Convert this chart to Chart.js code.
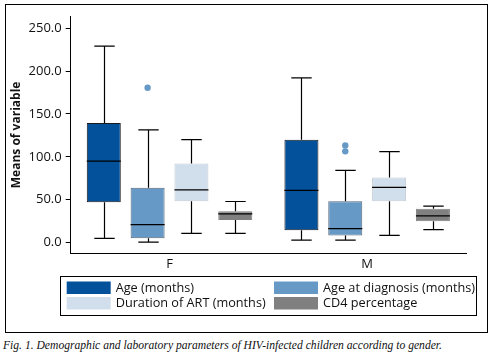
<!DOCTYPE html>
<html>
<head>
<meta charset="utf-8">
<script src="https://cdn.jsdelivr.net/npm/chart.js@4.4.1/dist/chart.umd.min.js"></script>
<style>
  body { margin: 0; background: #fff; width: 493px; height: 361px; position: relative; overflow: hidden; }
  #frame { position: absolute; left: 5px; top: 4px; width: 481px; height: 327px; border: 1px solid #000; }
  #caption { position: absolute; left: 3px; top: 339px; font-family: "Liberation Serif", serif; font-style: italic; font-size: 11.6px; color: #111; white-space: nowrap; }
</style>
</head>
<body>
<div id="frame"><canvas id="chart" width="481" height="327"></canvas></div>
<div id="caption">Fig. 1. Demographic and laboratory parameters of HIV-infected children according to gender.</div>
<script>
// categories and series
var categories = ['F', 'M'];
var seriesLabels = ['Age (months)', 'Age at diagnosis (months)', 'Duration of ART (months)', 'CD4 percentage'];
var yTicks = [0, 50, 100, 150, 200, 250];

// box stats per gender: [min, q1, median, q3, max]
var ageMonths    = [[5, 47, 95, 139.5, 229], [3, 14.5, 61, 120, 192]];
var ageDiagnosis = [[0.5, 5, 21, 64, 131.5], [3, 8.4, 16.4, 48.3, 84.3]];
var artDuration  = [[10.7, 48.3, 61.5, 92.3, 120], [8.4, 48.3, 64.3, 76, 106]];
var cd4Percent   = [[10.7, 26.5, 33.5, 36.5, 47.9], [15.2, 25, 31.2, 39.5, 42.6]];

// outliers per gender
var ageMonthsOut    = [[], []];
var ageDiagnosisOut = [[180.5], [113.3, 106.4]];
var artDurationOut  = [[], []];
var cd4PercentOut   = [[], []];

var fills   = ['#03509b', '#6799c6', '#d1dfec', '#808080'];
var borders = ['#1a1a1a', '#56687a', '#c3ccd5', '#808080'];

var allStats = [ageMonths, ageDiagnosis, artDuration, cd4Percent];
var allOut = [ageMonthsOut, ageDiagnosisOut, artDurationOut, cd4PercentOut];

var datasets = allStats.map(function (st, i) {
    return {
        label: seriesLabels[i],
        data: st.map(function (s) { return [s[1], s[3]]; }),
        backgroundColor: fills[i],
        borderColor: borders[i],
        borderWidth: 1,
        borderSkipped: false,
        stats: st,
        outliers: allOut[i]
    };
});

// whiskers, medians and outliers on top of the floating bars
var boxPlugin = {
    id: 'boxWhiskers',
    afterDatasetsDraw: function (chart) {
        var ctx = chart.ctx;
        var y = chart.scales.y;
        ctx.save();
        chart.data.datasets.forEach(function (ds, i) {
            var meta = chart.getDatasetMeta(i);
            meta.data.forEach(function (bar, j) {
                var s = ds.stats[j];
                var x = Math.round(bar.x) + 0.5;
                var half = bar.width / 2;
                var cap = bar.width * 0.3;
                ctx.strokeStyle = '#000';
                ctx.lineWidth = 1.2;
                ctx.beginPath();
                ctx.moveTo(x, y.getPixelForValue(s[3]));
                ctx.lineTo(x, y.getPixelForValue(s[4]));
                ctx.moveTo(x - cap, y.getPixelForValue(s[4]));
                ctx.lineTo(x + cap, y.getPixelForValue(s[4]));
                ctx.moveTo(x, y.getPixelForValue(s[1]));
                ctx.lineTo(x, y.getPixelForValue(s[0]));
                ctx.moveTo(x - cap, y.getPixelForValue(s[0]));
                ctx.lineTo(x + cap, y.getPixelForValue(s[0]));
                ctx.moveTo(bar.x - half, y.getPixelForValue(s[2]));
                ctx.lineTo(bar.x + half, y.getPixelForValue(s[2]));
                ctx.stroke();
                ctx.fillStyle = fills[1];
                ds.outliers[j].forEach(function (v) {
                    ctx.beginPath();
                    ctx.arc(bar.x, y.getPixelForValue(v), 3.2, 0, Math.PI * 2);
                    ctx.fill();
                });
            });
        });
        ctx.restore();
    }
};

// two column legend in a framed box
var legendPlugin = {
    id: 'boxLegend',
    afterDraw: function (chart) {
        var ctx = chart.ctx;
        ctx.save();
        ctx.strokeStyle = '#000';
        ctx.lineWidth = 1;
        ctx.strokeRect(54.5, 271.5, 416, 39);
        var cols = [60.7, 268];
        var rows = [276.5, 292];
        ctx.font = '12.7px "Open Sans"';
        ctx.textBaseline = 'middle';
        chart.data.datasets.forEach(function (ds, i) {
            var cx = cols[i % 2];
            var ry = rows[Math.floor(i / 2)];
            ctx.fillStyle = fills[i];
            ctx.fillRect(cx, ry, 44, 12.5);
            ctx.fillStyle = '#111';
            ctx.fillText(ds.label, cx + 49, ry + 6.5);
        });
        ctx.restore();
    }
};

new Chart(document.getElementById('chart').getContext('2d'), {
    type: 'bar',
    data: { labels: categories, datasets: datasets },
    plugins: [boxPlugin, legendPlugin],
    options: {
        responsive: false,
        animation: false,
        datasets: { bar: { categoryPercentage: 0.887, barPercentage: 0.776 } },
        layout: { padding: { left: 0, right: 21, top: 7, bottom: 59 } },
        plugins: { legend: { display: false }, tooltip: { enabled: false } },
        scales: {
            x: {
                grid: { display: false, drawTicks: false },
                border: { display: true, color: '#000', width: 1 },
                ticks: { color: '#111', font: { family: 'Open Sans', size: 13 }, padding: 3 },
                afterFit: function (s) { s.height = 20; }
            },
            y: {
                min: -12.1,
                max: 263.2,
                afterBuildTicks: function (s) { s.ticks = yTicks.map(function (v) { return { value: v }; }); },
                grid: { display: true, drawOnChartArea: false, drawTicks: true, tickLength: 5, color: '#000' },
                border: { display: true, color: '#000', width: 1 },
                ticks: {
                    color: '#111',
                    padding: 4,
                    font: { family: 'Open Sans', size: 13 },
                    callback: function (v) { return Number(v).toFixed(1); }
                },
                title: {
                    display: true,
                    text: 'Means of variable',
                    color: '#111',
                    font: { family: 'Open Sans', size: 12, weight: 'bold' },
                    padding: { top: 3, bottom: 0 }
                },
                afterFit: function (s) { s.width = 64.7; }
            }
        }
    }
});
</script>
</body>
</html>
